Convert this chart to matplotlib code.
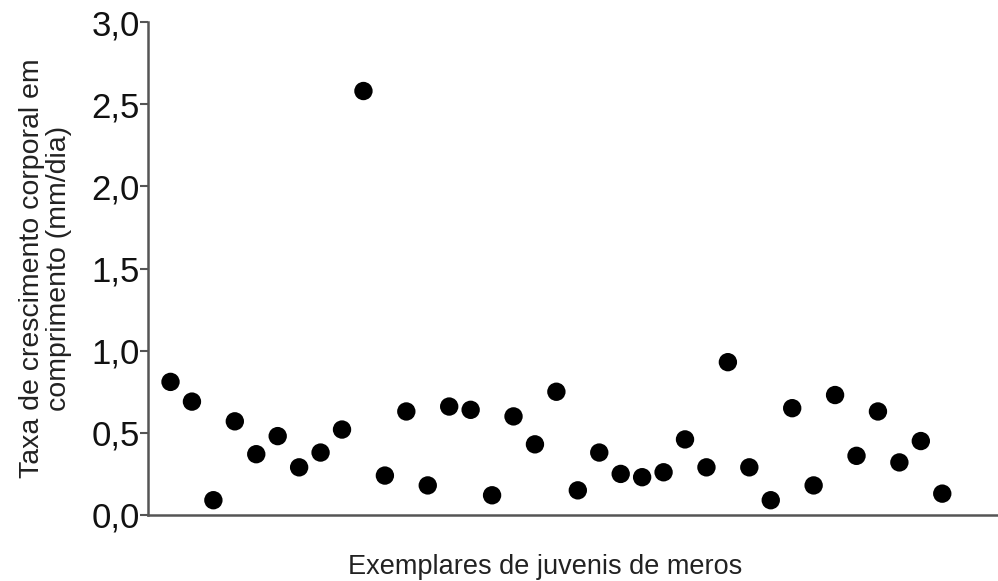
import matplotlib
matplotlib.use("Agg")
import matplotlib.pyplot as plt
from matplotlib.ticker import FuncFormatter

exemplares = list(range(1, 38))
taxa = [0.81, 0.69, 0.09, 0.57, 0.37, 0.48, 0.29, 0.38, 0.52, 2.58,
        0.24, 0.63, 0.18, 0.66, 0.64, 0.12, 0.60, 0.43, 0.75, 0.15,
        0.38, 0.25, 0.23, 0.26, 0.46, 0.29, 0.93, 0.29, 0.09, 0.65,
        0.18, 0.73, 0.36, 0.63, 0.32, 0.45, 0.13]
yticks = [0.0, 0.5, 1.0, 1.5, 2.0, 2.5, 3.0]

plt.rcParams['font.family'] = ['Liberation Sans', 'DejaVu Sans']

fig = plt.figure(figsize=(9.98, 5.81), dpi=100)
ax = fig.add_axes([148/998, 66/581, 1 - 148/998, (515-22)/581])

ax.scatter(exemplares, taxa, s=175, color='black', edgecolors='none', zorder=3)

ax.set_ylim(0, 3.0)
ax.set_xlim(-0.05, 39.6)
ax.set_yticks(yticks)
ax.yaxis.set_major_formatter(FuncFormatter(lambda v, p: f"{v:.1f}".replace('.', ',')))
ax.set_xticks([])
ax.tick_params(axis='y', labelsize=25, length=6, width=1.5, color='#555555', pad=0, labelcolor='#111111')

for s in ['top', 'right']:
    ax.spines[s].set_visible(False)
for s in ['left', 'bottom']:
    ax.spines[s].set_color('#555555')
    ax.spines[s].set_linewidth(1.8)

ax.set_ylabel("Taxa de crescimento corporal em\ncomprimento (mm/dia)", fontsize=20.5, color='#222222', labelpad=14, linespacing=1.05)
ax.set_xlabel("Exemplares de juvenis de meros", fontsize=19.5, color='#222222')
ax.xaxis.set_label_coords(0.467, -0.105)
ax.xaxis.label.set_va('center')

fig.savefig("out.png", dpi=100)
